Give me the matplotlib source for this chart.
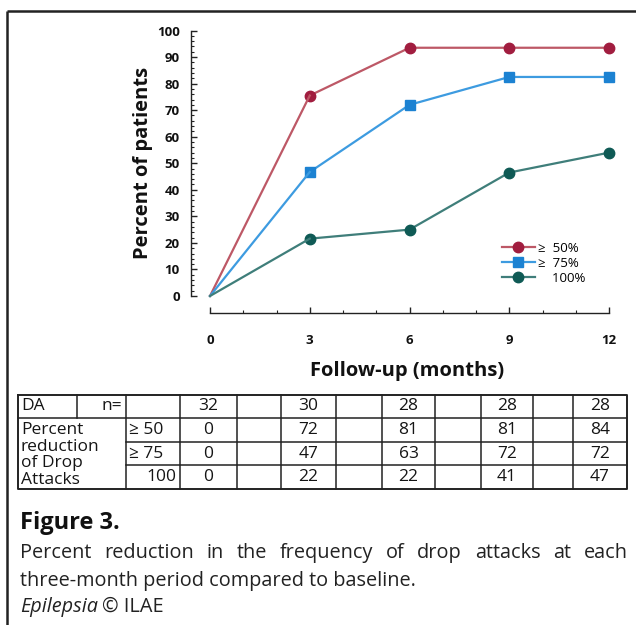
import matplotlib
matplotlib.use("Agg")
import matplotlib.pyplot as plt
from matplotlib.lines import Line2D
from matplotlib.ticker import MultipleLocator

plt.rcParams['font.family'] = ['Open Sans', 'DejaVu Sans']

# 1. DATA
months = [0, 3, 6, 9, 12]
ge50 = [0, 75.5, 93.5, 93.5, 93.5]
ge75 = [0, 46.7, 72.0, 82.5, 82.5]
full = [0, 21.6, 25.0, 46.5, 54.0]
series_labels = ["\u2265  50%", "\u2265  75%", "    100%"]

# table under the chart
n_patients = [32, 30, 28, 28, 28]
table_ge50 = [0, 72, 81, 81, 84]
table_ge75 = [0, 47, 63, 72, 72]
table_100 = [0, 22, 22, 41, 47]
row_names = ["\u2265 50", "\u2265 75", "100"]

# colours: line, marker
red = ('#bd5866', '#a11d3f')
blue = ('#3d9be0', '#1c82d2')
teal = ('#3f7e7a', '#0f5a55')

W, H = 636, 625
fig = plt.figure(figsize=(W / 100, H / 100), dpi=100)

# overlay in pixel coords for frame, table and caption
ov = fig.add_axes([0, 0, 1, 1])
ov.set_xlim(0, W)
ov.set_ylim(H, 0)
ov.axis('off')

# 2. CHART
ax = fig.add_axes([210 / W, 1 - 296 / H, 399 / W, 265.5 / H])
handles = []
for vals, (lc, mc), marker in [(ge50, red, 'o'), (ge75, blue, 's'), (full, teal, 'o')]:
    ms = 7.5 if marker == 'o' else 6.8
    ax.plot(months[1:], vals[1:], color=lc, lw=1.6, marker=marker, ms=ms,
            mfc=mc, mec=mc, clip_on=False, zorder=3)
    ax.plot(months[:2], vals[:2], color=lc, lw=1.6, clip_on=False, zorder=3)
    handles.append(Line2D([], [], color=lc, lw=1.6, marker=marker, ms=ms, mfc=mc, mec=mc))

ax.set_xlim(0, 12)
ax.set_ylim(0, 100)
for s in ['top', 'right']:
    ax.spines[s].set_visible(False)
ax.spines['left'].set_position(('outward', 13.7))
ax.spines['bottom'].set_position(('outward', 12.2))
for s in ['left', 'bottom']:
    ax.spines[s].set_linewidth(1.0)
    ax.spines[s].set_color('#222222')

ax.xaxis.set_major_locator(MultipleLocator(3))
ax.xaxis.set_minor_locator(MultipleLocator(1))
ax.yaxis.set_major_locator(MultipleLocator(10))
ax.yaxis.set_minor_locator(MultipleLocator(2))
ax.tick_params(axis='both', which='major', direction='in', length=4.5, width=1.0, color='#222222')
ax.tick_params(axis='both', which='minor', direction='in', length=2.5, width=0.8, color='#222222')
ax.tick_params(axis='y', which='major', pad=8)
ax.tick_params(axis='x', which='major', pad=15)
for lab in ax.get_xticklabels() + ax.get_yticklabels():
    lab.set_fontweight('bold')
    lab.set_fontsize(9.5)
    lab.set_color('#111111')

ax.set_ylabel("Percent of patients", fontsize=14.5, fontweight='bold', color='#111111')
ax.yaxis.set_label_coords(-0.143, 0.5)
ax.set_xlabel("Follow-up (months)", fontsize=14.5, fontweight='bold', color='#111111')
ax.xaxis.set_label_coords(0.494, -0.245)

ax.legend(handles, series_labels, loc='upper left', frameon=False,
          bbox_to_anchor=(502 / W, 1 - 242 / H), bbox_transform=fig.transFigure,
          borderpad=0, borderaxespad=0, handlelength=2.5, handletextpad=0.2,
          labelspacing=0.15, fontsize=9.5)

# 3. FRAME
ov.plot([7, 7], [11, H], color='#222222', lw=1.8, solid_capstyle='butt')
ov.plot([7, W], [11, 11], color='#222222', lw=1.8, solid_capstyle='butt')

# 4. TABLE
cols = [18, 77, 126, 180, 237, 281, 336, 382, 435, 481, 533, 573, 627]
rows = [395, 418, 442, 465, 489]
lc_t = '#222222'
ov.plot([cols[0], cols[-1], cols[-1], cols[0], cols[0]],
        [rows[0], rows[0], rows[-1], rows[-1], rows[0]], color=lc_t, lw=1.4)
ov.plot([cols[0], cols[-1]], [rows[1], rows[1]], color=lc_t, lw=1.1)
for y in rows[2:4]:
    ov.plot([cols[2], cols[-1]], [y, y], color=lc_t, lw=1.1)
ov.plot([cols[1], cols[1]], [rows[0], rows[1]], color=lc_t, lw=1.1)
for x in cols[2:-1]:
    ov.plot([x, x], [rows[0], rows[-1]], color=lc_t, lw=1.1)

tfs = 12.5
tc = '#151515'
num_cols = [3, 5, 7, 9, 11]


def cell_center(ci):
    return (cols[ci] + cols[ci + 1]) / 2


def row_center(ri):
    return (rows[ri] + rows[ri + 1]) / 2


ov.text(cols[0] + 3, row_center(0), "DA", fontsize=tfs, color=tc, va='center', ha='left')
ov.text(cols[2] - 4, row_center(0), "n=", fontsize=tfs, color=tc, va='center', ha='right')
for ci, v in zip(num_cols, n_patients):
    ov.text(cell_center(ci), row_center(0), str(v), fontsize=tfs, color=tc, va='center', ha='center')

for ri, (name, vals) in enumerate(zip(row_names, [table_ge50, table_ge75, table_100]), start=1):
    if name == "100":
        ov.text(cols[3] - 4, row_center(ri), name, fontsize=tfs, color=tc, va='center', ha='right')
    else:
        ov.text(cols[2] + 3, row_center(ri), name, fontsize=tfs, color=tc, va='center', ha='left')
    for ci, v in zip(num_cols, vals):
        ov.text(cell_center(ci), row_center(ri), str(v), fontsize=tfs, color=tc, va='center', ha='center')

for line, yb in zip(["Percent", "reduction", "of Drop", "Attacks"], [434, 451, 467, 484]):
    ov.text(cols[0] + 3, yb, line, fontsize=tfs, color=tc, va='baseline', ha='left')

# 5. CAPTION
cap_fs = 14.3
ov.text(20, 529, "Figure 3.", fontsize=17, fontweight='bold', color='#111111', va='baseline')

renderer = fig.canvas.get_renderer()
first = "Percent reduction in the frequency of drop attacks at each"
words = first.split()
word_texts = [ov.text(0, 558, w, fontsize=cap_fs, color='#222222', va='baseline') for w in words]
widths = [t.get_window_extent(renderer).width for t in word_texts]
gap = (628 - 20 - sum(widths)) / (len(words) - 1)
x = 20
for t, w in zip(word_texts, widths):
    t.set_x(x)
    x += w + gap

ov.text(20, 586, "three-month period compared to baseline.", fontsize=cap_fs, color='#222222', va='baseline')
ep = ov.text(20, 612, "Epilepsia", fontsize=cap_fs, style='italic', color='#222222', va='baseline')
ew = ep.get_window_extent(renderer).width
ov.text(20 + ew + 4, 612, "\u00a9 ILAE", fontsize=cap_fs, color='#222222', va='baseline')

fig.savefig("out.png", dpi=100)
